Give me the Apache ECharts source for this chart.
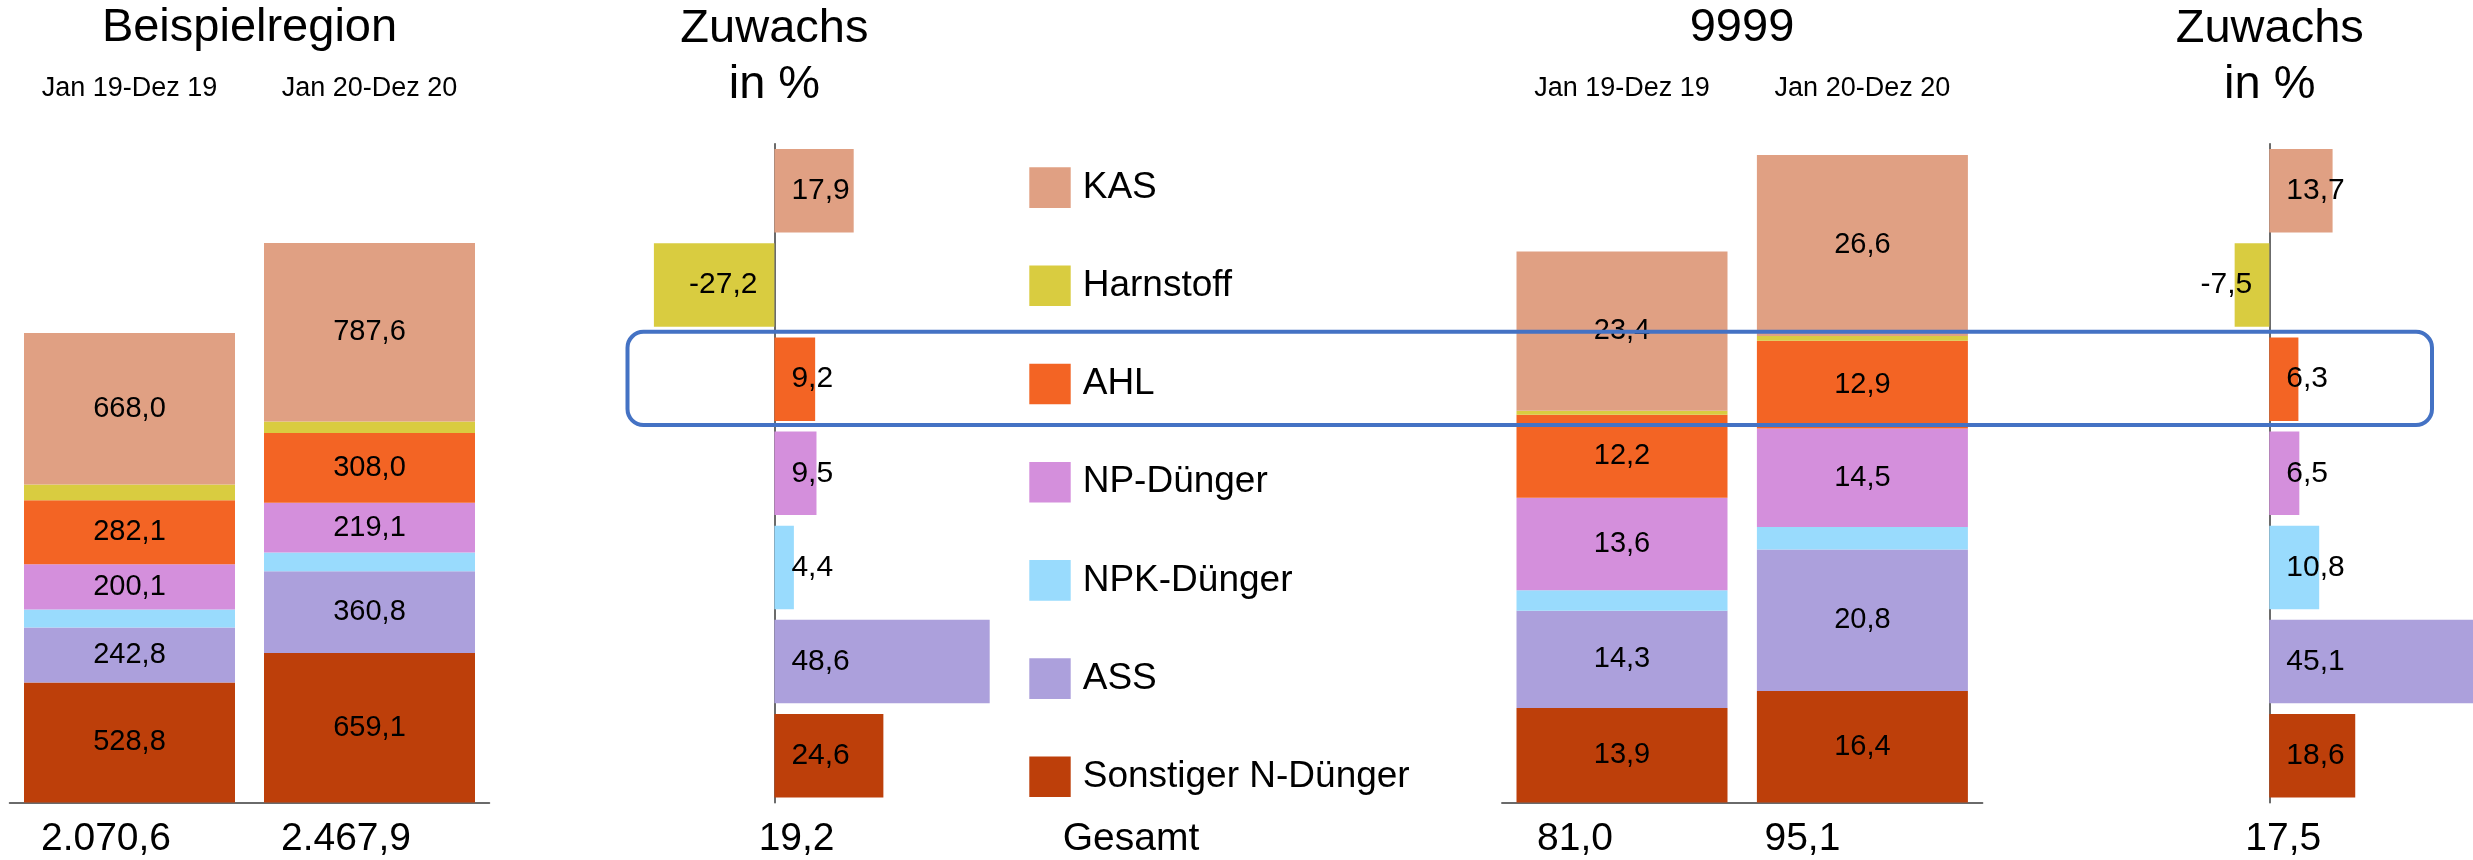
<!DOCTYPE html>
<html><head><meta charset="utf-8">
<script src="https://cdn.jsdelivr.net/npm/echarts@6/dist/echarts.min.js"></script>
<style>html,body{margin:0;padding:0;background:#fff}#c{width:2473px;height:860px}</style>
</head><body><div id="c"></div>
<script>
// ---------- data ----------
const fertilizers = ['KAS', 'Harnstoff', 'AHL', 'NP-Dünger', 'NPK-Dünger', 'ASS', 'Sonstiger N-Dünger'];
const fertColors = ['#E0A083', '#D9CC40', '#F36424', '#D48FDC', '#99DBFD', '#ACA0DC', '#BD3F0A'];
const periods = ['Jan 19-Dez 19', 'Jan 20-Dez 20'];

// Beispielregion, [Jan 19-Dez 19, Jan 20-Dez 20]
const regionKAS = [668.0, 787.6];
const regionHarnstoff = [69.8, 50.8];
const regionAHL = [282.1, 308.0];
const regionNP = [200.1, 219.1];
const regionNPK = [79.0, 82.5];
const regionASS = [242.8, 360.8];
const regionSonstiger = [528.8, 659.1];
const regionTotals = ['2.070,6', '2.467,9'];

// 9999, [Jan 19-Dez 19, Jan 20-Dez 20]
const k9999KAS = [23.4, 26.6];
const k9999Harnstoff = [0.6, 0.7];
const k9999AHL = [12.2, 12.9];
const k9999NP = [13.6, 14.5];
const k9999NPK = [3.0, 3.3];
const k9999ASS = [14.3, 20.8];
const k9999Sonstiger = [13.9, 16.4];
const k9999Totals = ['81,0', '95,1'];

// Zuwachs in % (order as fertilizers)
const growthRegion = [17.9, -27.2, 9.2, 9.5, 4.4, 48.6, 24.6];
const growth9999 = [13.7, -7.5, 6.3, 6.5, 10.8, 45.1, 18.6];
const growthTotalRegion = '19,2';
const growthTotal9999 = '17,5';

const titleRegion = 'Beispielregion';
const title9999 = '9999';
const titleGrowth = 'Zuwachs\nin %';
const totalText = 'Gesamt';

// ---------- helpers ----------
const FONT = "'Liberation Sans', Arial, Helvetica, sans-serif";
const fmt = v => v.toFixed(1).replace('.', ',');
const regionSets = [regionKAS, regionHarnstoff, regionAHL, regionNP, regionNPK, regionASS, regionSonstiger];
const k9999Sets = [k9999KAS, k9999Harnstoff, k9999AHL, k9999NP, k9999NPK, k9999ASS, k9999Sonstiger];
const noLabel = { 'Harnstoff': true, 'NPK-Dünger': true };
const AXIS_COLOR = '#3a3a3a';

function stackSeries(sets, xi, yi, stack) {
  const out = [];
  for (let i = fertilizers.length - 1; i >= 0; i--) {
    out.push({
      type: 'bar', name: fertilizers[i], stack: stack,
      xAxisIndex: xi, yAxisIndex: yi, barWidth: 211,
      itemStyle: { color: fertColors[i] },
      label: {
        show: !noLabel[fertilizers[i]], position: 'inside',
        formatter: p => fmt(p.value), fontSize: 29, fontFamily: FONT, color: '#000'
      },
      data: sets[i]
    });
  }
  return out;
}
function growthSeries(vals, xi, yi) {
  return {
    type: 'bar', name: 'Zuwachs' + xi, xAxisIndex: xi, yAxisIndex: yi, barWidth: 83.5,
    label: { show: true, distance: 17, fontSize: 30, fontFamily: FONT, color: '#000',
      formatter: p => fmt(p.value) },
    data: vals.map((v, i) => ({
      value: v, itemStyle: { color: fertColors[i] },
      label: { position: v < 0 ? 'insideRight' : 'insideLeft' }
    }))
  };
}
function bottomCat(grid, labels, shifts) {
  return {
    type: 'category', gridIndex: grid, position: 'bottom',
    data: labels.map((l, i) => ({ value: l, textStyle: { padding: [0, shifts[i], 0, 0] } })),
    axisLine: { show: true, onZero: false, lineStyle: { color: AXIS_COLOR, width: 1.5 } },
    axisTick: { show: false },
    axisLabel: { fontSize: 39, fontFamily: FONT, color: '#000', margin: 17, interval: 0 }
  };
}
function topCat(grid) {
  return {
    type: 'category', gridIndex: grid, position: 'top', data: periods,
    axisLine: { show: false }, axisTick: { show: false },
    axisLabel: { fontSize: 27, fontFamily: FONT, color: '#000', margin: 20, interval: 0 }
  };
}
const growthY = grid => ({
  type: 'category', gridIndex: grid, inverse: true, data: fertilizers,
  axisLine: { show: true, onZero: true, lineStyle: { color: AXIS_COLOR, width: 1.5 } },
  axisTick: { show: false }, axisLabel: { show: false }
});

const txt = (text, x, y, size, align) => ({
  type: 'text', x: x, y: y, z: 50,
  style: { text: text, fontSize: size, fontFamily: FONT, fill: '#000',
    textAlign: align || 'center', textVerticalAlign: 'middle', verticalAlign: 'middle', lineHeight: 56 }
});

const option = {
  animation: false,
  backgroundColor: '#fff',
  grid: [
    { left: 9.5, width: 480, top: 122.4, height: 680, outerBoundsMode: 'none', containLabel: false },
    { left: 1501.8, width: 480.8, top: 122.4, height: 680, outerBoundsMode: 'none', containLabel: false },
    { left: 597.2, width: 443, top: 143.8, height: 659, outerBoundsMode: 'none', containLabel: false },
    { left: 2084.5, width: 462, top: 143.8, height: 659, outerBoundsMode: 'none', containLabel: false }
  ],
  xAxis: [
    bottomCat(0, regionTotals, [47, 47]),
    topCat(0),
    bottomCat(1, k9999Totals, [94, 120]),
    topCat(1),
    { type: 'value', gridIndex: 2, min: -40, max: 60, show: false },
    { type: 'value', gridIndex: 3, min: -40, max: 60, show: false }
  ],
  yAxis: [
    { type: 'value', gridIndex: 0, min: 0, max: 3000, show: false },
    { type: 'value', gridIndex: 1, min: 0, max: 100, show: false },
    growthY(2),
    growthY(3)
  ],
  legend: {
    data: fertilizers, orient: 'vertical', left: 1024.3, top: 162.3,
    itemWidth: 41.4, itemHeight: 40.6, itemGap: 57.6, icon: 'rect', selectedMode: false,
    textStyle: { fontSize: 37, fontFamily: FONT, color: '#000', padding: [0, 0, 0, 7] }
  },
  series: [
    ...stackSeries(regionSets, 0, 0, 'region'),
    ...stackSeries(k9999Sets, 2, 1, 'k9999'),
    growthSeries(growthRegion, 4, 2),
    growthSeries(growth9999, 5, 3)
  ],
  graphic: [
    txt(titleRegion, 249.5, 28, 47),
    txt(title9999, 1742, 28, 47),
    txt(titleGrowth, 774.4, 57, 47),
    txt(titleGrowth, 2269.8, 57, 47),
    txt(growthTotalRegion, 796.6, 839, 39),
    txt(growthTotal9999, 2283.3, 839, 39),
    txt(totalText, 1062.7, 839, 39, 'left'),
    { type: 'rect', z: 100, shape: { x: 627.5, y: 331.8, width: 1804.5, height: 93.2, r: 16 },
      style: { fill: 'none', stroke: '#4472C4', lineWidth: 4 } }
  ]
};
const chart = echarts.init(document.getElementById('c'));
chart.setOption(option);
</script></body></html>
